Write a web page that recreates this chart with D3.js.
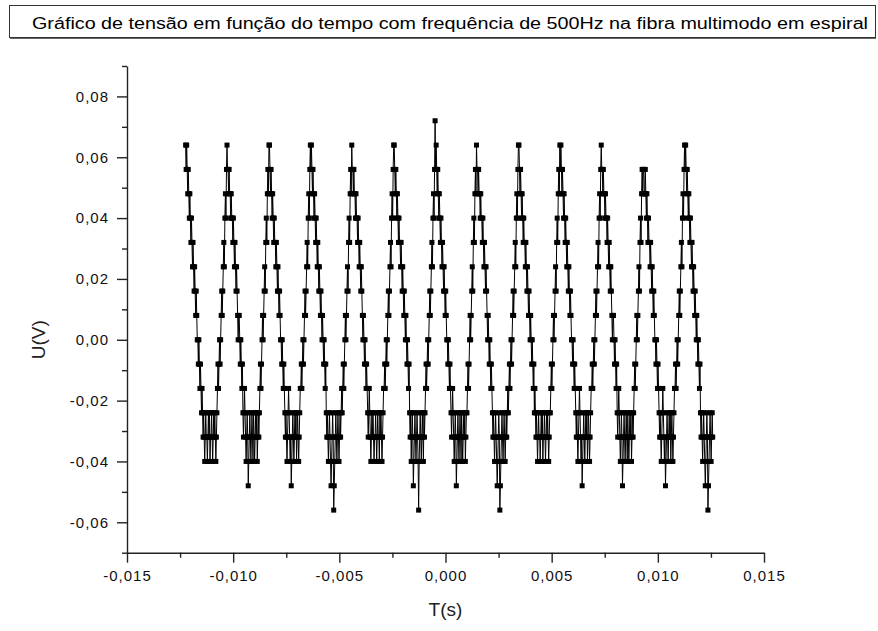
<!DOCTYPE html>
<html>
<head>
<meta charset="utf-8">
<script src="https://cdn.jsdelivr.net/npm/d3@7"></script>
<style>
  body { margin: 0; background: #fff; }
  svg text { font-family: Arial, "Liberation Sans", sans-serif; }
</style>
</head>
<body>
<div id="chart"></div>
<script>
// Chart text
const TITLE = 'Gráfico de tensão em função do tempo com frequência de 500Hz na fibra multimodo em espiral';
const X_LABEL = 'T(s)';
const Y_LABEL = 'U(V)';

// Axis ticks
const xTicks = [-0.015, -0.010, -0.005, 0.000, 0.005, 0.010, 0.015];
const xTickLabels = ['-0,015', '-0,010', '-0,005', '0,000', '0,005', '0,010', '0,015'];
const xMinorTicks = [-0.0125, -0.0075, -0.0025, 0.0025, 0.0075, 0.0125];
const yTicks = [-0.06, -0.04, -0.02, 0.00, 0.02, 0.04, 0.06, 0.08];
const yTickLabels = ['-0,06', '-0,04', '-0,02', '0,00', '0,02', '0,04', '0,06', '0,08'];
const yMinorTicks = [-0.07, -0.05, -0.03, -0.01, 0.01, 0.03, 0.05, 0.07, 0.09];

// Scope record: first sample time and sample interval (s)
const sampleStart = -0.01224;
const sampleStep = 0.000025;

const voltageMV = [
  // cycle 1
  64,56,64,56,48,56,48,40,48,40,32,40,32,24,32,24,16,24,16,8,16,8,0,
  0,-8,0,-8,-16,-8,-16,
  -24,-16,-24,-32,-24,-32,-40,-32,-24,-32,-32,-40,-32,-24,-32,-24,-40,-32,-32,-24,-32,-40,-32,-24,-32,-24,-32,-40,-32,-24,
  -16,-8,-16,-8,0,-8,0,8,16,8,16,24,32,24,40,48,40,56,
  // cycle 2
  64,56,56,48,56,48,48,40,48,40,40,32,40,32,24,32,24,16,24,16,8,0,8,
  8,0,-8,0,-8,-16,-8,
  -24,-32,-24,-16,-24,-32,-40,-32,-24,-32,-48,-40,-32,-24,-32,-40,-32,-24,-32,-40,-24,-32,-40,-32,-24,-32,-24,-40,-32,-24,-32,
  -24,-16,-8,-16,-8,0,8,0,8,16,24,16,32,40,32,48,56,48,
  // cycle 3
  64,64,56,48,56,48,40,48,40,32,40,32,32,24,32,24,16,24,16,8,16,8,0,
  0,-8,0,-8,-16,-8,-16,
  -24,-32,-24,-32,-40,-32,-24,-16,-24,-32,-40,-32,-48,-40,-32,-24,-32,-40,-32,-24,-32,-24,-40,-32,-24,-32,-40,-32,-24,-16,
  -16,-8,-16,-8,0,-8,0,8,16,8,16,24,32,24,40,48,40,56,
  // cycle 4
  64,56,64,56,48,56,48,40,48,40,32,40,32,24,32,24,16,24,16,8,16,8,0,
  8,0,-8,0,-8,-16,-8,
  -24,-32,-24,-32,-40,-32,-24,-32,-40,-48,-40,-32,-24,-32,-56,-48,-40,-32,-24,-32,-40,-32,-24,-32,-40,-32,-24,-32,-24,-16,
  -24,-16,-8,-16,-8,0,8,0,8,16,24,16,32,40,32,48,56,48,
  // cycle 5
  64,56,56,48,56,48,48,40,48,40,40,32,40,32,24,32,24,16,24,16,8,0,8,
  0,-8,0,-8,-16,-8,-16,
  -24,-32,-24,-16,-24,-32,-40,-32,-24,-32,-24,-32,-40,-32,-32,-24,-32,-40,-32,-24,-32,-32,-40,-24,-32,-24,-32,-40,-32,-24,-16,
  -16,-8,-16,-8,0,-8,0,8,16,8,16,24,32,24,40,48,40,56,
  // cycle 6
  64,64,56,48,56,48,40,48,40,32,40,32,32,24,32,24,16,24,16,8,16,8,0,
  8,0,-8,0,-8,-16,-8,
  -24,-32,-24,-40,-32,-24,-32,-48,-40,-32,-24,-32,-40,-32,-24,-32,-40,-56,-40,-32,-24,-32,-40,-32,-24,-32,-40,-24,-32,-24,
  -16,-8,-16,-8,0,-8,0,8,16,8,16,24,32,24,40,48,40,56,
  // cycle 7
  72,56,64,56,48,56,48,40,48,40,32,40,32,24,32,24,16,24,16,8,16,8,0,
  0,-8,0,-8,-16,-8,-16,
  -24,-32,-24,-16,-24,-32,-40,-32,-24,-32,-48,-40,-32,-24,-32,-40,-32,-24,-32,-40,-24,-32,-40,-32,-24,-32,-24,-40,-32,-24,
  -24,-16,-8,-16,-8,0,8,0,8,16,24,16,32,40,32,48,56,48,
  // cycle 8
  64,56,56,48,56,48,48,40,48,40,40,32,40,32,24,32,24,16,24,16,8,0,8,
  0,-8,0,-8,-16,-8,-16,
  -24,-32,-24,-32,-40,-32,-24,-32,-40,-48,-40,-32,-24,-32,-56,-48,-40,-32,-24,-32,-40,-32,-24,-32,-40,-32,-24,-32,-24,-16,-24,
  -16,-8,-16,-8,0,-8,0,8,16,8,16,24,32,24,40,48,40,56,
  // cycle 9
  64,64,56,48,56,48,40,48,40,32,40,32,32,24,32,24,16,24,16,8,16,8,0,
  8,0,-8,0,-8,-16,-8,
  -24,-16,-24,-32,-24,-32,-40,-32,-24,-32,-32,-40,-32,-24,-32,-24,-40,-32,-32,-24,-32,-40,-32,-24,-32,-24,-32,-40,-32,-24,
  -24,-16,-8,-16,-8,0,8,0,8,16,24,16,32,40,32,48,56,48,
  // cycle 10
  64,56,64,56,48,56,48,40,48,40,32,40,32,24,32,24,16,24,16,8,16,8,0,
  0,-8,0,-8,-16,-8,-16,
  -24,-32,-24,-32,-40,-32,-24,-16,-24,-32,-40,-32,-48,-40,-32,-24,-32,-40,-32,-24,-32,-24,-40,-32,-24,-32,-40,-32,-24,-16,
  -16,-8,-16,-8,0,-8,0,8,16,8,16,24,32,24,40,48,40,56,
  // cycle 11
  64,56,56,48,56,48,48,40,48,40,40,32,40,32,24,32,24,16,24,16,8,0,8,
  8,0,-8,0,-8,-16,-8,
  -24,-32,-24,-16,-24,-32,-40,-32,-24,-32,-48,-40,-32,-24,-32,-40,-32,-24,-32,-40,-24,-32,-40,-32,-24,-32,-24,-40,-32,-24,-32,
  -24,-16,-8,-16,-8,0,8,0,8,16,24,16,32,40,32,48,56,48,
  // cycle 12
  56,56,48,48,56,48,40,48,40,32,40,32,32,24,32,24,16,24,16,8,16,8,0,
  0,-8,0,-8,-16,-8,-16,
  -24,-32,-24,-32,-40,-32,-24,-16,-24,-32,-40,-32,-48,-40,-32,-24,-32,-40,-32,-24,-32,-24,-40,-32,-24,-32,-40,-32,-24,-16,
  -16,-8,-16,-8,0,-8,0,8,16,8,16,24,32,24,40,48,40,56,
  // last peak and descent
  64,56,64,56,48,56,48,40,48,40,32,40,32,24,32,24,16,24,16,8,16,8,0,
  8,0,-8,0,-8,-16,-8,
  -24,-32,-24,-32,-40,-32,-24,-32,-40,-48,-40,-32,-24,-32,-56,-48,-40,-32,-24,-32,-40,-32,-24,-32
];

const width = 878;
const height = 631;

const svg = d3.select('#chart').append('svg')
    .attr('width', width)
    .attr('height', height);

// Title box
svg.append('rect')
    .attr('x', 9.5)
    .attr('y', 5.5)
    .attr('width', 866)
    .attr('height', 32)
    .attr('fill', '#fff')
    .attr('stroke', '#333')
    .attr('stroke-width', 1);
svg.append('line')
    .attr('x1', 10).attr('x2', 876)
    .attr('y1', 38).attr('y2', 38)
    .attr('stroke', '#333')
    .attr('stroke-width', 1.5);

svg.append('text')
    .attr('x', 32)
    .attr('y', 29)
    .attr('font-size', '16px')
    .attr('fill', '#000')
    .attr('textLength', 836)
    .attr('lengthAdjust', 'spacingAndGlyphs')
    .text(TITLE);

// Scales
const x = d3.scaleLinear().domain([-0.015, 0.015]).range([127, 764]);
const y = d3.scaleLinear().domain([-0.07, 0.09]).range([552.7, 66]);

const axisColor = '#222';

// Axes
svg.append('g')
    .attr('transform', `translate(0,${y(-0.07)})`)
    .call(d3.axisBottom(x)
        .tickValues(xTicks)
        .tickSize(10)
        .tickSizeOuter(0)
        .tickPadding(8)
        .tickFormat((d, i) => xTickLabels[i]));

svg.append('g')
    .attr('transform', `translate(0,${y(-0.07)})`)
    .call(d3.axisBottom(x)
        .tickValues(xMinorTicks)
        .tickSize(5)
        .tickSizeOuter(0)
        .tickFormat(''))
    .select('.domain').remove();

svg.append('g')
    .attr('transform', `translate(${x(-0.015)},0)`)
    .call(d3.axisLeft(y)
        .tickValues(yTicks)
        .tickSize(10)
        .tickSizeOuter(0)
        .tickPadding(8)
        .tickFormat((d, i) => yTickLabels[i]));

svg.append('g')
    .attr('transform', `translate(${x(-0.015)},0)`)
    .call(d3.axisLeft(y)
        .tickValues(yMinorTicks)
        .tickSize(5)
        .tickSizeOuter(0)
        .tickFormat(''))
    .select('.domain').remove();

svg.selectAll('.domain, .tick line')
    .attr('stroke', axisColor)
    .attr('stroke-width', 1.4);

svg.selectAll('.tick text')
    .attr('font-family', 'Arial, "Liberation Sans", sans-serif')
    .attr('font-size', '15px')
    .attr('letter-spacing', '1px')
    .attr('fill', '#111');

// Axis titles
svg.append('text')
    .attr('x', x(0))
    .attr('y', 616)
    .attr('text-anchor', 'middle')
    .attr('font-size', '19px')
    .attr('fill', '#222')
    .text(X_LABEL);

svg.append('text')
    .attr('transform', `translate(45,${y(0.0)}) rotate(-90)`)
    .attr('text-anchor', 'middle')
    .attr('font-size', '19px')
    .attr('fill', '#222')
    .text(Y_LABEL);

// Data points
const points = voltageMV.map((mv, i) => ({
    t: sampleStart + i * sampleStep,
    u: mv / 1000
}));

const line = d3.line()
    .x(d => x(d.t))
    .y(d => y(d.u));

svg.append('path')
    .datum(points)
    .attr('d', line)
    .attr('fill', 'none')
    .attr('stroke', '#000')
    .attr('stroke-width', 1);

const markerSize = 5;
svg.append('g')
    .selectAll('rect')
    .data(points)
    .join('rect')
    .attr('x', d => x(d.t) - markerSize / 2)
    .attr('y', d => y(d.u) - markerSize / 2)
    .attr('width', markerSize)
    .attr('height', markerSize)
    .attr('fill', '#000');
</script>
</body>
</html>
